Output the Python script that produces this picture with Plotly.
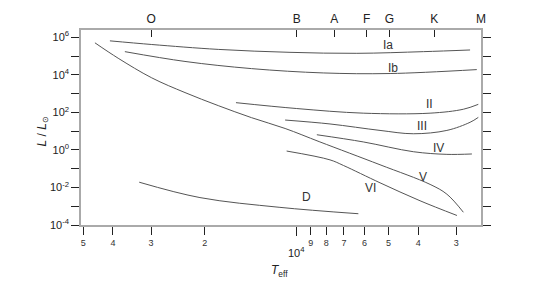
import plotly.graph_objects as go
import numpy as np

# ---- data (log10 Teff, log10 L/Lsun) ----
Ia_logT = [4.612, 4.475, 4.257, 4.022, 3.803, 3.585, 3.432]
Ia_logL = [5.807, 5.613, 5.352, 5.195, 5.143, 5.232, 5.321]

Ib_logT = [4.563, 4.366, 4.148, 3.913, 3.694, 3.410]
Ib_logL = [5.232, 4.710, 4.328, 4.098, 4.067, 4.276]

II_logT = [4.199, 4.000, 3.782, 3.563, 3.454, 3.405]
II_logL = [2.515, 2.202, 1.956, 1.956, 2.165, 2.426]

III_logT = [4.038, 3.891, 3.727, 3.618, 3.508, 3.432, 3.405]
III_logL = [1.590, 1.381, 1.037, 0.859, 1.037, 1.470, 1.731]

IV_logT = [3.934, 3.782, 3.618, 3.508, 3.426]
IV_logL = [0.807, 0.425, -0.097, -0.238, -0.217]

V_logT = [4.661, 4.585, 4.475, 4.366, 4.257, 4.148, 4.038, 3.924, 3.727, 3.563, 3.508, 3.454]
V_logL = [5.702, 4.882, 3.837, 3.053, 2.358, 1.716, 1.141, 0.425, -0.792, -1.837, -2.359, -3.321]

VI_logT = [4.033, 3.891, 3.847, 3.727, 3.596, 3.475]
VI_logL = [-0.061, -0.531, -0.829, -1.753, -2.709, -3.493]

D_logT = [4.516, 4.317, 4.055, 3.798]
D_logL = [-1.72, -2.54, -3.06, -3.40]

series = [("Ia", Ia_logT, Ia_logL), ("Ib", Ib_logT, Ib_logL),
          ("II", II_logT, II_logL), ("III", III_logT, III_logL),
          ("IV", IV_logT, IV_logL), ("V", V_logT, V_logL),
          ("VI", VI_logT, VI_logL), ("D", D_logT, D_logL)]

label_names = ["Ia", "Ib", "II", "III", "IV", "V", "VI", "D"]
label_logT = [3.700, 3.683, 3.565, 3.588, 3.535, 3.585, 3.757, 3.967]
label_logL = [5.56, 4.38, 2.43, 1.26, 0.11, -1.46, -2.01, -2.50]

xtick_vals = [50000, 40000, 30000, 20000, 9000, 8000, 7000, 6000, 5000, 4000, 3000]
xtick_text = ["5", "4", "3", "2", "9", "8", "7", "6", "5", "4", "3"]
xminor_vals = [10000]

ytick_vals = [1e-4, 1e-2, 1e0, 1e2, 1e4, 1e6]
ytick_text = ["10<sup>-4</sup>", "10<sup>-2</sup>", "10<sup>0</sup>",
              "10<sup>2</sup>", "10<sup>4</sup>", "10<sup>6</sup>"]
yminor_vals = [1e-3, 1e-1, 1e1, 1e3, 1e5]

spec_classes = ["O", "B", "A", "F", "G", "K", "M"]
spec_temps = [30000, 10000, 7540, 5900, 4970, 3540, 2490]

X_RANGE = [np.log10(50900), np.log10(2490)]
Y_RANGE = [-4, 6.385]

fig = go.Figure()

for name, lx, ly in series:
    fig.add_trace(go.Scatter(x=10 ** np.asarray(lx), y=10 ** np.asarray(ly), mode="lines",
                             name=name,
                             line=dict(color="#555555", width=1, shape="spline", smoothing=1.0),
                             showlegend=False, hoverinfo="skip"))

# invisible trace to activate the top axis
fig.add_trace(go.Scatter(x=[spec_temps[0]], y=[1], xaxis="x2", mode="markers",
                         marker=dict(opacity=0), showlegend=False, hoverinfo="skip"))

for nm, lt, ll in zip(label_names, label_logT, label_logL):
    fig.add_annotation(x=lt, y=ll, text=nm, showarrow=False,
                       font=dict(family="Liberation Sans, Arial", size=12, color="#333"),
                       xref="x", yref="y")

fig.update_layout(
    width=543, height=297,
    margin=dict(l=81, r=62, t=26, b=72),
    plot_bgcolor="white", paper_bgcolor="white",
    font=dict(family="Liberation Sans, Arial", color="#222"),
    xaxis=dict(type="log", range=X_RANGE, tickvals=xtick_vals, ticktext=xtick_text,
               ticks="outside", ticklen=8, tickcolor="#222", tickwidth=1,
               minor=dict(tickvals=xminor_vals, ticks="outside", ticklen=9,
                          tickcolor="#222", tickwidth=1),
               showline=True, linecolor="#aaaaaa", linewidth=1.5, mirror=False,
               showgrid=False, zeroline=False, tickfont=dict(size=9, color="#333")),
    xaxis2=dict(type="log", range=X_RANGE, overlaying="x", side="top",
                tickvals=spec_temps, ticktext=spec_classes, ticks="inside", ticklen=7,
                tickcolor="#222", showline=True, linecolor="#aaaaaa", linewidth=1.5,
                showgrid=False, zeroline=False, tickfont=dict(size=12, color="#222")),
    yaxis=dict(type="log", range=Y_RANGE, tickvals=ytick_vals, ticktext=ytick_text,
               ticks="outside", ticklen=8, tickcolor="#222", tickwidth=1,
               minor=dict(tickvals=yminor_vals, ticks="outside", ticklen=8,
                          tickcolor="#222", tickwidth=1),
               showline=True, linecolor="#aaaaaa", linewidth=1.5, mirror="ticks",
               showgrid=False, zeroline=False, tickfont=dict(size=11, color="#222")),
)

fig.add_annotation(x=4.0, y=-4, xref="x", yref="y", yshift=-27, text="10<sup>4</sup>",
                   showarrow=False, font=dict(size=11, color="#222"))
fig.add_annotation(x=0.5, y=-0.16, xref="paper", yref="paper", yanchor="top",
                   text="<i>T</i><sub>eff</sub>", showarrow=False,
                   font=dict(size=12, color="#222"), xshift=-2, yshift=-5)
fig.add_annotation(x=-0.12, y=0.48, xref="paper", yref="paper", textangle=-90,
                   text="<i>L</i> / <i>L</i><sub>⊙</sub>", showarrow=False,
                   font=dict(size=12, color="#222"))

fig.write_html("out.html")
